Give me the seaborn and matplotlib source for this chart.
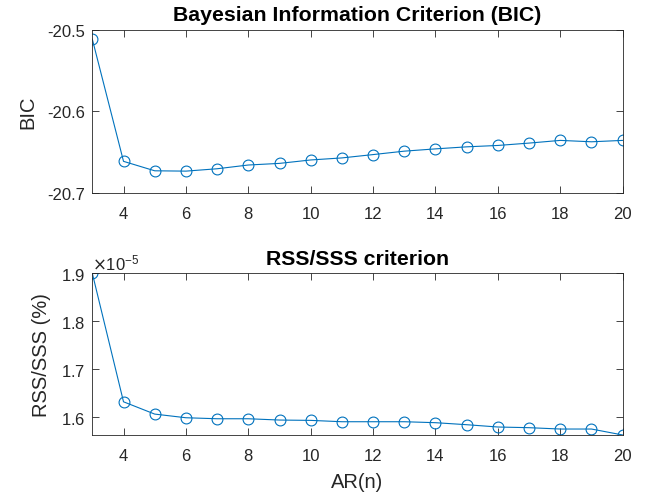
import numpy as np
import pandas as pd
import matplotlib
matplotlib.use("Agg")
import matplotlib.pyplot as plt
from matplotlib.ticker import ScalarFormatter
import seaborn as sns

# Model orders and criteria values
orders = list(range(3, 21))
bic = [-20.5116, -20.6615, -20.6731, -20.6735, -20.6706, -20.6660, -20.6640, -20.6598,
       -20.6573, -20.6532, -20.6490, -20.6462, -20.6437, -20.6420, -20.6391, -20.6358,
       -20.6375, -20.6358]
# RSS/SSS ratio, expressed in units of 1e-5
rss_e5 = [1.9000, 1.6325, 1.6069, 1.5993, 1.5972, 1.5972, 1.5945, 1.5938,
          1.5910, 1.5910, 1.5910, 1.5890, 1.5848, 1.5800, 1.5786, 1.5758,
          1.5758, 1.5634]
rss_scale = 1e-5

x_ticks = list(range(4, 21, 2))
bic_ticks = [-20.7, -20.6, -20.5]
rss_ticks = [1.6e-5, 1.7e-5, 1.8e-5, 1.9e-5]

df = pd.DataFrame({"order": orders, "bic": bic,
                   "rss": np.array(rss_e5) * rss_scale})

sns.set_style("white")
plt.rcParams["font.family"] = ["Liberation Sans", "DejaVu Sans"]
plt.rcParams["axes.unicode_minus"] = False

line_color = "#0072BD"
axis_color = "#262626"
tick_size = 12
label_size = 14.5
title_size = 15.3

fig = plt.figure(figsize=(6.51, 5.02), dpi=100)
ax1 = fig.add_axes([0.1418, 0.6141, 0.9565 - 0.1418, 0.9388 - 0.6141])
ax2 = fig.add_axes([0.1418, 0.1315, 0.9565 - 0.1418, 0.4536 - 0.1315])

line_kw = dict(color=line_color, linewidth=0.8, marker="o", markersize=7.8,
               markerfacecolor="none", markeredgecolor=line_color,
               markeredgewidth=0.8)

sns.lineplot(data=df, x="order", y="bic", ax=ax1, **line_kw)
sns.lineplot(data=df, x="order", y="rss", ax=ax2, **line_kw)

for ax in (ax1, ax2):
    ax.set_xlim(orders[0], orders[-1])
    ax.set_xticks(x_ticks)
    for sp in ax.spines.values():
        sp.set_visible(True)
        sp.set_color(axis_color)
        sp.set_linewidth(0.6)
    ax.tick_params(direction="in", length=5, width=0.6, color=axis_color,
                   top=True, right=True, bottom=True, left=True,
                   labelsize=tick_size, labelcolor=axis_color)
    ax.tick_params(axis="x", pad=9.5)
    ax.tick_params(axis="y", pad=5)

ax1.set_ylim(-20.7, -20.5)
ax1.set_yticks(bic_ticks)
ax1.set_yticklabels([f"{v:.1f}" for v in bic_ticks])
ax1.set_xlabel("")
ax1.set_ylabel("BIC", fontsize=label_size, color=axis_color, labelpad=7)
ax1.set_title("Bayesian Information Criterion (BIC)", fontsize=title_size,
              fontweight="bold", color="black", pad=7)

ax2.set_ylim(df["rss"].min(), df["rss"].max())
ax2.set_yticks(rss_ticks)
fmt = ScalarFormatter(useMathText=True)
fmt.set_powerlimits((-3, 3))
ax2.yaxis.set_major_formatter(fmt)
ax2.yaxis.get_offset_text().set_fontsize(tick_size)
ax2.yaxis.get_offset_text().set_color(axis_color)
ax2.set_xlabel("AR(n)", fontsize=label_size, color=axis_color, labelpad=6.5)
ax2.set_ylabel("RSS/SSS (%)", fontsize=label_size, color=axis_color, labelpad=7)
ax2.set_title("RSS/SSS criterion", fontsize=title_size, fontweight="bold",
              color="black", pad=7)

fig.savefig("out.png", dpi=100, facecolor="white")
